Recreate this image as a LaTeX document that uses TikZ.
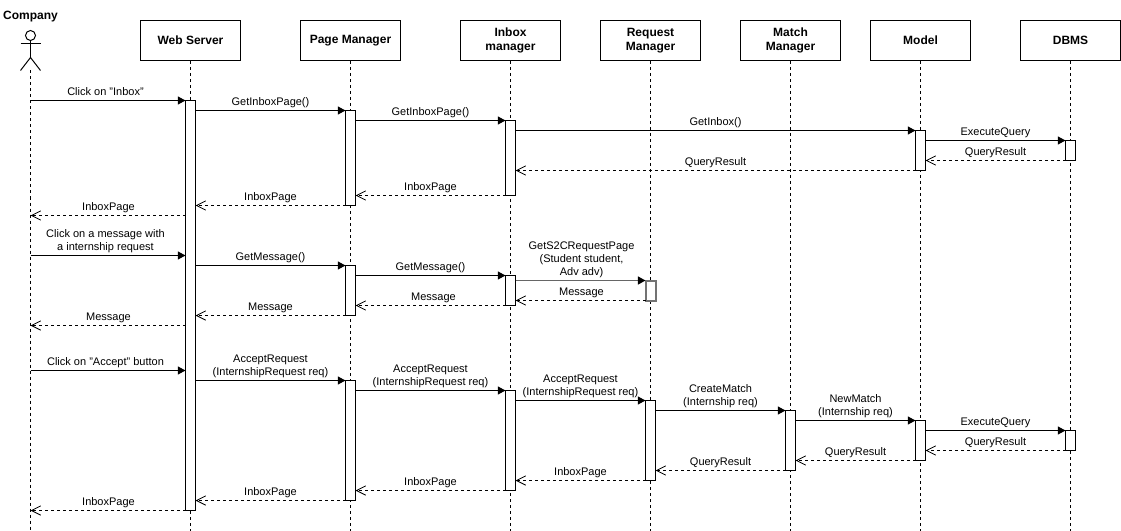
\documentclass[tikz,border=0pt]{standalone}
\usepackage{fontspec}
\setmainfont{Liberation Sans}
\usetikzlibrary{arrows.meta}
\tikzset{
  px/.style={x=0.75pt,y=-0.75pt},
  head/.style={draw=black,line width=0.75pt,fill=white,minimum width=75pt,minimum height=30pt,inner sep=0pt,align=center,font=\fontsize{9}{10.8}\selectfont\bfseries},
  life/.style={draw=black,line width=0.75pt,dash pattern=on 2.25pt off 2.25pt},
  actbar/.style={draw=black,line width=0.75pt,fill=white,minimum width=7.5pt,inner sep=0pt,outer sep=0pt},
  softbar/.style={actbar,draw=black!55,line width=1.5pt},
  call/.style={draw=black,line width=0.75pt,-{Triangle[length=5.75pt,width=6pt]}},
  softcall/.style={draw=black!60,line width=1.2pt,-{Triangle[length=5.75pt,width=6pt,color=black]}},
  back/.style={draw=black,line width=0.75pt,dash pattern=on 2.25pt off 2.25pt,-{Straight Barb[length=7pt,width=7pt,line width=0.6pt]}},
  lbl/.style={font=\fontsize{8.25}{9.75}\selectfont,align=center,inner sep=0pt,anchor=south,text depth=0pt},
  dude/.style={draw=black,line width=0.75pt}
}
\newcommand{\actb}[5][actbar]{\node[#1,minimum height={(#5-#4)*0.75pt}] (#2) at (#3,{(#4+#5)/2}) {};}
% \cl{style}{from anchor}{to anchor}{y}{label x}{label}
\newcommand{\cl}[6]{\draw[#1] (#2 |- 0,#4) -- (#3 |- 0,#4);
  \node[lbl] at (#5,#4-5) {#6};}
\begin{document}
\begin{tikzpicture}[px]
\useasboundingbox (-0.5,-0.5) rectangle (1120.5,530.5);
% actor
\node[font=\fontsize{9}{10.8}\selectfont\bfseries,inner sep=0pt] (co) at (30,16) {Company};
\node[draw=black,line width=0.75pt,circle,minimum size=7.5pt,inner sep=0pt,outer sep=0pt] (ah) at (30,35) {};
\coordinate (ab) at (30,57);
\coordinate (af) at (30,70);
\coordinate (al) at (20,43);
\coordinate (ar) at (40,43);
\coordinate (ll) at (20,70);
\coordinate (lr) at (40,70);
\draw[dude] (ah.south) -- (ab);
\draw[dude] (al) -- (ar);
\draw[dude] (ll) -- (ab) -- (lr);
% heads
\node[head] (ws) at (190,40) {Web Server};
\node[head] (pm) at (350,40) {Page Manager};
\node[head] (im) at (510,40) {Inbox\\manager};
\node[head] (rm) at (650,40) {Request\\Manager};
\node[head] (mm) at (790,40) {Match\\Manager};
\node[head] (mo) at (920,40) {Model};
\node[head] (db) at (1070,40) {DBMS};
% lifelines
\coordinate (aend) at (30,530);
\coordinate (wend) at (190,530);
\coordinate (pend) at (350,530);
\coordinate (iend) at (510,530);
\coordinate (rend) at (650,530);
\coordinate (mend) at (790,530);
\coordinate (oend) at (920,530);
\coordinate (dend) at (1070,530);
\draw[life] (af) -- (aend);
\draw[life] (ws) -- (wend);
\draw[life] (pm) -- (pend);
\draw[life] (im) -- (iend);
\draw[life] (rm) -- (rend);
\draw[life] (mm) -- (mend);
\draw[life] (mo) -- (oend);
\draw[life] (db) -- (dend);
% activations
\actb{w}{190}{100}{510}
\actb{pa}{350}{110}{205}
\actb{pb}{350}{265}{315}
\actb{pc}{350}{380}{500}
\actb{ia}{510}{120}{195}
\actb{ib}{510}{275}{305}
\actb{ic}{510}{390}{490}
\actb[softbar]{ra}{650}{280}{300}
\actb{rc}{650}{400}{480}
\actb{mc}{790}{410}{470}
\actb{oa}{920}{130}{170}
\actb{oc}{920}{420}{460}
\actb{da}{1070}{140}{160}
\actb{dc}{1070}{430}{450}
% messages: first block
\cl{call}{af}{w.west}{100}{105}{Click on "Inbox"}
\cl{call}{w.east}{pa.west}{110}{270}{GetInboxPage()}
\cl{call}{pa.east}{ia.west}{120}{430}{GetInboxPage()}
\cl{call}{ia.east}{oa.west}{130}{715}{GetInbox()}
\cl{call}{oa.east}{da.west}{140}{995}{ExecuteQuery}
\cl{back}{da.west}{oa.east}{160}{995}{QueryResult}
\cl{back}{oa.west}{ia.east}{170}{715}{QueryResult}
\cl{back}{ia.west}{pa.east}{195}{430}{InboxPage}
\cl{back}{pa.west}{w.east}{205}{270}{InboxPage}
\cl{back}{w.west}{af}{215}{108}{InboxPage}
% second block
\cl{call}{af}{w.west}{255}{105}{Click on a message with\\a internship request}
\cl{call}{w.east}{pb.west}{265}{270}{GetMessage()}
\cl{call}{pb.east}{ib.west}{275}{430}{GetMessage()}
\cl{softcall}{ib.east}{ra.west}{280}{581}{GetS2CRequestPage\\(Student student,\\Adv adv)}
\cl{back}{ra.west}{ib.east}{300}{581}{Message}
\cl{back}{ib.west}{pb.east}{305}{433}{Message}
\cl{back}{pb.west}{w.east}{315}{270}{Message}
\cl{back}{w.west}{af}{325}{108}{Message}
% third block
\cl{call}{af}{w.west}{370}{105}{Click on "Accept" button}
\cl{call}{w.east}{pc.west}{380}{270}{AcceptRequest\\(InternshipRequest req)}
\cl{call}{pc.east}{ic.west}{390}{430}{AcceptRequest\\(InternshipRequest req)}
\cl{call}{ic.east}{rc.west}{400}{580}{AcceptRequest\\(InternshipRequest req)}
\cl{call}{rc.east}{mc.west}{410}{720}{CreateMatch\\(Internship req)}
\cl{call}{mc.east}{oc.west}{420}{855}{NewMatch\\(Internship req)}
\cl{call}{oc.east}{dc.west}{430}{995}{ExecuteQuery}
\cl{back}{dc.west}{oc.east}{450}{995}{QueryResult}
\cl{back}{oc.west}{mc.east}{460}{855}{QueryResult}
\cl{back}{mc.west}{rc.east}{470}{720}{QueryResult}
\cl{back}{rc.west}{ic.east}{480}{580}{InboxPage}
\cl{back}{ic.west}{pc.east}{490}{430}{InboxPage}
\cl{back}{pc.west}{w.east}{500}{270}{InboxPage}
\cl{back}{w.west}{af}{510}{108}{InboxPage}
\end{tikzpicture}
\end{document}
